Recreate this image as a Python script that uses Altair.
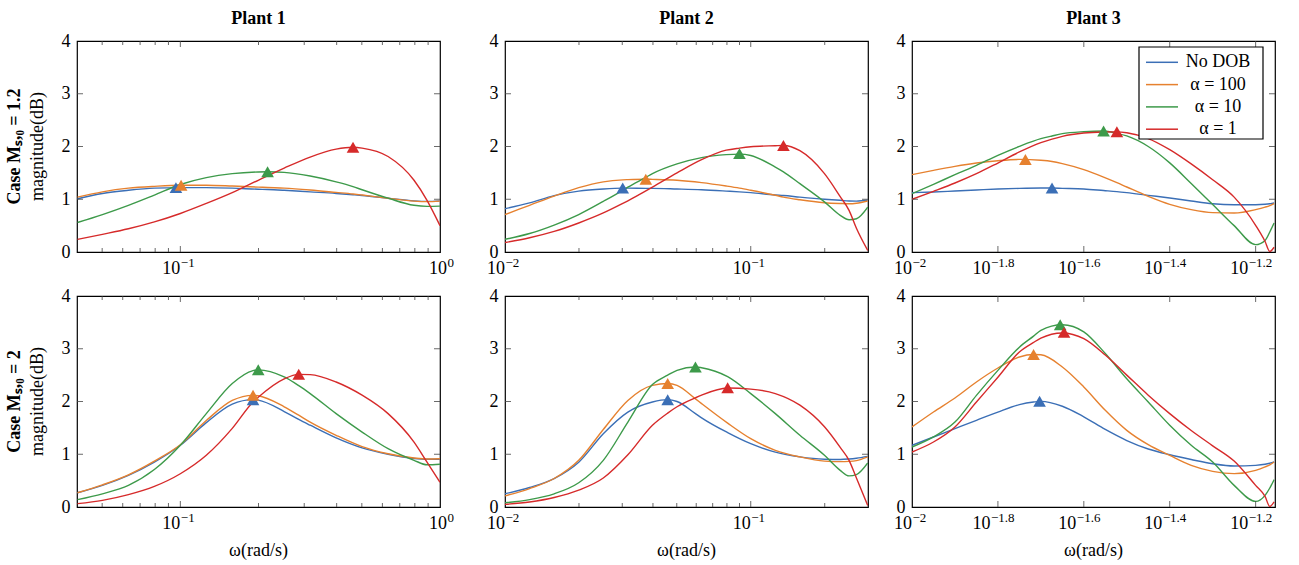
import altair as alt
import pandas as pd

FONT = "Liberation Serif"
SERIES = ["No DOB", "α = 100", "α = 10", "α = 1"]
COLORS = ["#3b6fb6", "#e6812f", "#3d9a4a", "#d62a2a"]
W, H = 363, 211

# ---------------- Plant 1, case Ms0 = 1.2 (x given as log10(omega)) ----------------
R1P1_LW = [-1.396, -1.3, -1.2, -1.1, -1.0, -0.9, -0.8, -0.7, -0.664, -0.6, -0.5, -0.4, -0.335, -0.3, -0.2, -0.1, -0.05, 0.0]
R1P1_BLUE = [1.01, 1.11, 1.17, 1.21, 1.22, 1.22, 1.21, 1.19, 1.185, 1.17, 1.14, 1.11, 1.085, 1.07, 1.02, 0.97, 0.96, 0.97]
R1P1_ORANGE = [1.04, 1.14, 1.21, 1.245, 1.265, 1.265, 1.25, 1.23, 1.222, 1.21, 1.175, 1.13, 1.10, 1.08, 1.02, 0.965, 0.955, 0.965]
R1P1_GREEN = [0.56, 0.71, 0.885, 1.08, 1.28, 1.41, 1.485, 1.517, 1.52, 1.51, 1.44, 1.33, 1.24, 1.18, 1.02, 0.885, 0.865, 0.87]
R1P1_RED = [0.24, 0.335, 0.44, 0.57, 0.73, 0.92, 1.125, 1.36, 1.445, 1.59, 1.80, 1.95, 1.985, 1.97, 1.81, 1.36, 0.98, 0.5]
R1P1_PEAK_LW = [-1.017, -0.997, -0.664, -0.335]
R1P1_PEAK_M = [1.22, 1.265, 1.52, 1.985]

# ---------------- Plant 1, case Ms0 = 2 ----------------
R2P1_LW = [-1.396, -1.3, -1.2, -1.1, -1.0, -0.9, -0.8, -0.72, -0.7, -0.6, -0.544, -0.5, -0.4, -0.3, -0.2, -0.1, -0.05, 0.0]
R2P1_BLUE = [0.27, 0.41, 0.60, 0.85, 1.17, 1.60, 1.95, 2.035, 2.025, 1.81, 1.66, 1.55, 1.31, 1.12, 1.0, 0.92, 0.905, 0.905]
R2P1_ORANGE = [0.27, 0.42, 0.61, 0.87, 1.18, 1.64, 2.02, 2.117, 2.11, 1.90, 1.74, 1.61, 1.36, 1.145, 1.01, 0.93, 0.91, 0.915]
R2P1_GREEN = [0.14, 0.25, 0.41, 0.71, 1.17, 1.77, 2.34, 2.585, 2.6, 2.465, 2.30, 2.15, 1.77, 1.42, 1.105, 0.885, 0.80, 0.81]
R2P1_RED = [0.063, 0.126, 0.234, 0.39, 0.63, 0.98, 1.49, 1.99, 2.08, 2.43, 2.515, 2.51, 2.37, 2.12, 1.77, 1.23, 0.85, 0.47]
R2P1_PEAK_LW = [-0.72, -0.72, -0.7, -0.544]
R2P1_PEAK_M = [2.035, 2.117, 2.6, 2.515]

# ---------------- Plant 2, case Ms0 = 1.2 ----------------
R1P2_LW = [-2.0, -1.9, -1.8, -1.7, -1.6, -1.521, -1.5, -1.427, -1.4, -1.3, -1.2, -1.1, -1.046, -1.0, -0.9, -0.867, -0.8, -0.7, -0.636, -0.6, -0.57, -0.524]
R1P2_BLUE = [0.82, 0.93, 1.07, 1.155, 1.195, 1.21, 1.21, 1.207, 1.207, 1.195, 1.18, 1.155, 1.14, 1.125, 1.08, 1.07, 1.04, 1.0, 0.98, 0.967, 0.965, 0.98]
R1P2_ORANGE = [0.71, 0.885, 1.06, 1.22, 1.33, 1.368, 1.372, 1.38, 1.377, 1.36, 1.315, 1.25, 1.21, 1.17, 1.075, 1.04, 0.99, 0.935, 0.92, 0.915, 0.925, 0.967]
R1P2_GREEN = [0.24, 0.35, 0.51, 0.71, 0.96, 1.17, 1.23, 1.415, 1.485, 1.67, 1.79, 1.845, 1.855, 1.83, 1.61, 1.52, 1.295, 0.95, 0.695, 0.61, 0.63, 0.85]
R1P2_RED = [0.18, 0.27, 0.39, 0.55, 0.74, 0.92, 0.97, 1.16, 1.23, 1.50, 1.75, 1.93, 1.97, 1.995, 2.015, 2.02, 1.92, 1.485, 1.05, 0.79, 0.45, 0.03]
R1P2_PEAK_LW = [-1.521, -1.427, -1.046, -0.867]
R1P2_PEAK_M = [1.215, 1.38, 1.865, 2.02]

# ---------------- Plant 2, case Ms0 = 2 ----------------
R2P2_LW = [-2.0, -1.9, -1.8, -1.7, -1.6, -1.5, -1.4, -1.338, -1.3, -1.225, -1.2, -1.094, -1.0, -0.9, -0.8, -0.7, -0.636, -0.6, -0.57, -0.524]
R2P2_BLUE = [0.25, 0.37, 0.54, 0.85, 1.39, 1.80, 1.99, 2.035, 2.0, 1.77, 1.69, 1.41, 1.20, 1.04, 0.95, 0.905, 0.90, 0.91, 0.925, 0.96]
R2P2_ORANGE = [0.21, 0.35, 0.54, 0.885, 1.47, 2.02, 2.306, 2.34, 2.306, 2.05, 1.96, 1.59, 1.295, 1.075, 0.95, 0.87, 0.86, 0.865, 0.88, 0.95]
R2P2_GREEN = [0.08, 0.14, 0.25, 0.46, 0.885, 1.61, 2.32, 2.50, 2.59, 2.655, 2.64, 2.47, 2.15, 1.77, 1.36, 0.98, 0.695, 0.59, 0.615, 0.835]
R2P2_RED = [0.05, 0.095, 0.18, 0.32, 0.55, 0.99, 1.55, 1.78, 1.90, 2.07, 2.12, 2.255, 2.235, 2.15, 1.93, 1.52, 1.13, 0.885, 0.55, 0.03]
R2P2_PEAK_LW = [-1.338, -1.338, -1.225, -1.094]
R2P2_PEAK_M = [2.035, 2.34, 2.655, 2.26]

# ---------------- Plant 3, case Ms0 = 1.2 ----------------
R1P3_LW = [-2.0, -1.95, -1.9, -1.85, -1.8, -1.75, -1.7, -1.674, -1.65, -1.6, -1.554, -1.523, -1.5, -1.45, -1.4, -1.35, -1.3, -1.25, -1.2, -1.178, -1.167, -1.157]
R1P3_BLUE = [1.125, 1.137, 1.156, 1.175, 1.194, 1.207, 1.213, 1.213, 1.207, 1.194, 1.165, 1.145, 1.125, 1.074, 1.024, 0.967, 0.916, 0.897, 0.897, 0.905, 0.915, 0.929]
R1P3_ORANGE = [1.466, 1.548, 1.624, 1.687, 1.731, 1.755, 1.738, 1.715, 1.675, 1.561, 1.42, 1.315, 1.232, 1.055, 0.904, 0.803, 0.746, 0.739, 0.803, 0.85, 0.88, 0.916]
R1P3_GREEN = [1.106, 1.283, 1.466, 1.643, 1.833, 2.003, 2.148, 2.2, 2.243, 2.281, 2.294, 2.25, 2.20, 2.0, 1.69, 1.30, 0.90, 0.50, 0.139, 0.22, 0.38, 0.55]
R1P3_RED = [0.998, 1.15, 1.308, 1.485, 1.687, 1.896, 2.073, 2.14, 2.193, 2.256, 2.275, 2.278, 2.26, 2.15, 1.94, 1.67, 1.37, 1.04, 0.506, 0.2, 0.01, 0.09]
R1P3_PEAK_LW = [-1.674, -1.736, -1.554, -1.523]
R1P3_PEAK_M = [1.213, 1.755, 2.294, 2.278]

# ---------------- Plant 3, case Ms0 = 2 ----------------
R2P3_LW = [-2.0, -1.95, -1.9, -1.85, -1.8, -1.75, -1.717, -1.7, -1.65, -1.6, -1.55, -1.5, -1.45, -1.4, -1.35, -1.3, -1.25, -1.2, -1.178, -1.167, -1.157]
R2P3_BLUE = [1.169, 1.327, 1.485, 1.643, 1.80, 1.94, 1.99, 2.003, 1.91, 1.71, 1.47, 1.26, 1.10, 0.99, 0.90, 0.82, 0.777, 0.79, 0.81, 0.83, 0.853]
R2P3_ORANGE = [1.517, 1.801, 2.066, 2.37, 2.635, 2.844, 2.89, 2.885, 2.654, 2.275, 1.833, 1.453, 1.182, 0.979, 0.79, 0.676, 0.632, 0.695, 0.76, 0.80, 0.853]
R2P3_GREEN = [1.137, 1.33, 1.61, 2.117, 2.59, 3.03, 3.24, 3.35, 3.455, 3.32, 2.91, 2.43, 1.99, 1.55, 1.17, 0.853, 0.41, 0.107, 0.221, 0.36, 0.518]
R2P3_RED = [1.043, 1.232, 1.517, 1.99, 2.46, 2.94, 3.12, 3.2, 3.30, 3.19, 2.88, 2.50, 2.12, 1.77, 1.45, 1.16, 0.87, 0.41, 0.2, 0.01, 0.095]
R2P3_PEAK_LW = [-1.703, -1.717, -1.655, -1.646]
R2P3_PEAK_M = [2.003, 2.89, 3.455, 3.31]

# ---------------- axes ----------------
P1_DOMAIN = [0.04, 1.0]
P2_DOMAIN = [0.01, 0.3]
P3_DOMAIN = [0.01, 0.07]
P1_MAJOR = [0.1]
P1_MINOR = [0.05, 0.06, 0.07, 0.08, 0.09, 0.2, 0.3, 0.4, 0.5, 0.6, 0.7, 0.8, 0.9]
P2_MAJOR = [0.1]
P2_MINOR = [0.02, 0.03, 0.04, 0.05, 0.06, 0.07, 0.08, 0.09, 0.2]
P3_MAJOR = [10 ** -1.8, 10 ** -1.6, 10 ** -1.4, 10 ** -1.2]
P3_MINOR = []
P1_LABELS = [(0.1, "−1"), (1.0, "0")]
P2_LABELS = [(0.01, "−2"), (0.1, "−1")]
P3_LABELS = [(0.01, "−2"), (10 ** -1.8, "−1.8"), (10 ** -1.6, "−1.6"), (10 ** -1.4, "−1.4"), (10 ** -1.2, "−1.2")]
Y_TICKS = [1, 2, 3]
TICK_COLOR = "#444444"


def label_dx(exp):
    if exp == "0":
        return 7
    if len(exp) > 2:
        return -7.5
    return 0


def build(lw, vals, pk_lw, pk_m, dom, majors, minors, labels,
          title=None, row=None, xtitle=False, legend=False):
    rows = []
    for s, v in zip(SERIES, vals):
        for a, m in zip(lw, v):
            rows.append({"w": 10 ** a, "mag": m, "series": s})
    df = pd.DataFrame(rows)
    pk = pd.DataFrame({"w": [10 ** a for a in pk_lw], "mag": pk_m, "series": SERIES})

    xs = alt.Scale(type="log", domain=dom, nice=False)
    ys = alt.Scale(domain=[0, 4], nice=False, zero=False)
    cs = alt.Scale(domain=SERIES, range=COLORS)
    yaxis = alt.Axis(values=[0, 1, 2, 3, 4], title=None, ticks=False, domain=False, grid=False,
                     labelFont=FONT, labelFontSize=18, labelColor="black", labelPadding=7,
                     labelFlush=False, labelOverlap=False, format="d")

    x_enc = alt.X("w:Q", scale=xs, axis=None)
    y_enc = alt.Y("mag:Q", scale=ys, axis=yaxis)
    layers = []
    layers.append(alt.Chart(df).mark_line(clip=True, strokeWidth=1.4, interpolate="monotone").encode(
        x=x_enc, y=y_enc,
        color=alt.Color("series:N", scale=cs, legend=None, sort=SERIES),
    ))
    layers.append(alt.Chart(pk).mark_point(shape="triangle-up", filled=True, size=160, opacity=1).encode(
        x=x_enc, y=y_enc,
        fill=alt.Fill("series:N", scale=cs, legend=None),
    ))
    tx = alt.X("t:Q", scale=xs, axis=None)
    ty = alt.Y("t:Q", scale=ys, axis=yaxis)
    for vals_t, ln in ((majors, 6), (minors, 4)):
        if not vals_t:
            continue
        tdf = pd.DataFrame({"t": vals_t})
        layers.append(alt.Chart(tdf).mark_rule(color=TICK_COLOR, strokeWidth=0.8).encode(
            x=tx, y=alt.value(H), y2=alt.value(H - ln)))
        layers.append(alt.Chart(tdf).mark_rule(color=TICK_COLOR, strokeWidth=0.8).encode(
            x=tx, y=alt.value(0), y2=alt.value(ln)))
    ydf = pd.DataFrame({"t": Y_TICKS})
    layers.append(alt.Chart(ydf).mark_rule(color=TICK_COLOR, strokeWidth=0.8).encode(
        y=ty, x=alt.value(0), x2=alt.value(6)))
    layers.append(alt.Chart(ydf).mark_rule(color=TICK_COLOR, strokeWidth=0.8).encode(
        y=ty, x=alt.value(W), x2=alt.value(W - 6)))
    for val, exp in labels:
        ldf = pd.DataFrame({"t": [val]})
        dx = label_dx(exp)
        layers.append(alt.Chart(ldf).mark_text(text="10", align="right", baseline="alphabetic", dx=dx,
                                               font=FONT, fontSize=18, color="black").encode(
            x=tx, y=alt.value(H + 22)))
        layers.append(alt.Chart(ldf).mark_text(text=exp, align="left", baseline="alphabetic", dx=dx + 0.5,
                                               font=FONT, fontSize=13, color="black").encode(
            x=tx, y=alt.value(H + 15)))
    one = pd.DataFrame({"k": [0]})
    if legend:
        # legend box drawn inside the plot area (top-right), like the pgfplots legend
        ld = pd.DataFrame({"series": SERIES, "py": [21.3 + 22.3 * i for i in range(len(SERIES))]})
        layers.append(alt.Chart(one).mark_rect(fill="white", stroke="black", strokeWidth=1.2).encode(
            x=alt.value(227), x2=alt.value(351), y=alt.value(6), y2=alt.value(98)))
        layers.append(alt.Chart(ld).mark_rule(strokeWidth=1.5).encode(
            x=alt.value(234), x2=alt.value(266), y=alt.Y("py:Q", scale=None),
            color=alt.Color("series:N", scale=cs, legend=None, sort=SERIES)))
        layers.append(alt.Chart(ld).mark_text(align="center", baseline="middle", font=FONT, fontSize=18,
                                              color="black").encode(
            x=alt.value(306), y=alt.Y("py:Q", scale=None), text="series:N"))
    if row is not None:
        layers.append(alt.Chart(one).mark_text(text=row, angle=270, align="center", baseline="middle",
                                               font=FONT, fontSize=18, fontWeight="bold", color="black").encode(
            x=alt.value(-62), y=alt.value(H / 2)))
        layers.append(alt.Chart(one).mark_text(text="magnitude(dB)", angle=270, align="center", baseline="middle",
                                               font=FONT, fontSize=18, color="black").encode(
            x=alt.value(-39), y=alt.value(H / 2)))
    if xtitle:
        layers.append(alt.Chart(one).mark_text(text="ω(rad/s)", align="center", baseline="middle",
                                               font=FONT, fontSize=18, color="black").encode(
            x=alt.value(W / 2), y=alt.value(H + 44)))

    props = dict(width=W, height=H)
    if title:
        props["title"] = alt.TitleParams(title, font=FONT, fontSize=18, fontWeight="bold", color="black",
                                         anchor="middle", baseline="alphabetic", offset=-10)
    return alt.layer(*layers).properties(**props)


p11 = build(R1P1_LW, [R1P1_BLUE, R1P1_ORANGE, R1P1_GREEN, R1P1_RED], R1P1_PEAK_LW, R1P1_PEAK_M,
            P1_DOMAIN, P1_MAJOR, P1_MINOR, P1_LABELS, title="Plant 1", row="Case Mₛ,₀ = 1.2")
p12 = build(R1P2_LW, [R1P2_BLUE, R1P2_ORANGE, R1P2_GREEN, R1P2_RED], R1P2_PEAK_LW, R1P2_PEAK_M,
            P2_DOMAIN, P2_MAJOR, P2_MINOR, P2_LABELS, title="Plant 2")
p13 = build(R1P3_LW, [R1P3_BLUE, R1P3_ORANGE, R1P3_GREEN, R1P3_RED], R1P3_PEAK_LW, R1P3_PEAK_M,
            P3_DOMAIN, P3_MAJOR, P3_MINOR, P3_LABELS, title="Plant 3", legend=True)
p21 = build(R2P1_LW, [R2P1_BLUE, R2P1_ORANGE, R2P1_GREEN, R2P1_RED], R2P1_PEAK_LW, R2P1_PEAK_M,
            P1_DOMAIN, P1_MAJOR, P1_MINOR, P1_LABELS, row="Case Mₛ,₀ = 2", xtitle=True)
p22 = build(R2P2_LW, [R2P2_BLUE, R2P2_ORANGE, R2P2_GREEN, R2P2_RED], R2P2_PEAK_LW, R2P2_PEAK_M,
            P2_DOMAIN, P2_MAJOR, P2_MINOR, P2_LABELS, xtitle=True)
p23 = build(R2P3_LW, [R2P3_BLUE, R2P3_ORANGE, R2P3_GREEN, R2P3_RED], R2P3_PEAK_LW, R2P3_PEAK_M,
            P3_DOMAIN, P3_MAJOR, P3_MINOR, P3_LABELS, xtitle=True)


def res(c):
    return c.resolve_scale(color="independent", fill="independent", x="independent", y="independent")


def make_row(a, b, c):
    inner = res(alt.hconcat(a, b, spacing=31))
    return res(alt.hconcat(inner, c, spacing=24))


chart = res(alt.vconcat(make_row(p11, p12, p13), make_row(p21, p22, p23), spacing=7)).properties(
    padding={"left": 5, "top": 9, "right": 5, "bottom": 3}, background="white"
).configure_view(stroke="black", strokeWidth=1.2)

chart.save("out.html", embed_options={"renderer": "svg", "actions": False})
